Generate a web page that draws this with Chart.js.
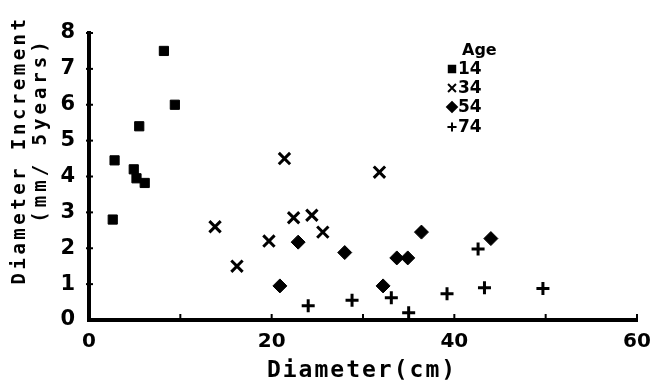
<!DOCTYPE html>
<html>
<head>
<meta charset="utf-8">
<script src="https://cdn.jsdelivr.net/npm/chart.js@4/dist/chart.umd.min.js"></script>
<style>
  body { margin: 0; background: #fff; }
  #wrap { width: 669px; height: 389px; position: relative; }
</style>
</head>
<body>
<div id="wrap"><canvas id="growthChart"></canvas></div>
<script>
// Diameter (cm) vs diameter increment (mm / 5 years), by age
const age14 = [[2.6, 2.8], [2.8, 4.45], [4.9, 4.2], [5.2, 3.95], [5.5, 5.4], [6.1, 3.82], [8.2, 7.5], [9.4, 6.0]];
const age34 = [[13.8, 2.6], [16.2, 1.5], [19.7, 2.2], [21.4, 4.5], [22.4, 2.85], [24.4, 2.92], [25.6, 2.45], [31.8, 4.12]];
const age54 = [[20.9, 0.95], [22.9, 2.17], [28.0, 1.88], [32.2, 0.95], [33.7, 1.73], [34.9, 1.73], [36.4, 2.45], [44.0, 2.27]];
const age74 = [[24.0, 0.4], [28.8, 0.55], [33.1, 0.62], [35.0, 0.2], [39.2, 0.73], [42.6, 1.98], [43.3, 0.9], [49.7, 0.88]];

const seriesNames = ['14', '34', '54', '74'];
const xTicks = [0, 20, 40, 60];
const yTicks = [0, 1, 2, 3, 4, 5, 6, 7, 8];

const xTitle = 'Diameter(cm)';
const yTitle1 = 'Diameter Increment';
const yTitle2 = '(mm/ 5years)';

function toPoints(arr) {
    return arr.map(p => ({ x: p[0], y: p[1] }));
}

const markerStyles = [
    { pointStyle: 'rect', pointRadius: 6.5, pointBorderWidth: 1 },
    { pointStyle: 'crossRot', pointRadius: 8, pointBorderWidth: 3 },
    { pointStyle: 'rectRot', pointRadius: 7, pointBorderWidth: 1 },
    { pointStyle: 'cross', pointRadius: 6.5, pointBorderWidth: 3 }
];

const datasets = [age14, age34, age54, age74].map((arr, i) => ({
    label: seriesNames[i],
    data: toPoints(arr),
    backgroundColor: '#000',
    borderColor: '#000',
    pointStyle: markerStyles[i].pointStyle,
    pointRadius: markerStyles[i].pointRadius,
    pointBorderWidth: markerStyles[i].pointBorderWidth,
    pointHoverRadius: markerStyles[i].pointRadius
}));

// draws axis ticks, axis titles and the "Age" key
const decorPlugin = {
    id: 'decor',
    afterDraw(chart) {
        const ctx = chart.ctx;
        const xs = chart.scales.x;
        const ys = chart.scales.y;
        const area = chart.chartArea;
        ctx.save();
        ctx.strokeStyle = '#000';
        ctx.lineWidth = 2;
        // x ticks every 10, pointing up
        for (let v = 10; v <= 60; v += 10) {
            const px = xs.getPixelForValue(v);
            ctx.beginPath();
            ctx.moveTo(px, area.bottom);
            ctx.lineTo(px, area.bottom - 6);
            ctx.stroke();
        }
        // y ticks crossing the axis
        yTicks.forEach(v => {
            if (v === 0) return;
            const py = ys.getPixelForValue(v);
            ctx.beginPath();
            ctx.moveTo(area.left - 3, py);
            ctx.lineTo(area.left + 4, py);
            ctx.stroke();
        });

        ctx.fillStyle = '#000';
        ctx.textAlign = 'center';
        ctx.textBaseline = 'middle';
        // x title
        ctx.font = 'bold 23px "DejaVu Sans Mono"';
        ctx.letterSpacing = '2px';
        ctx.fillText(xTitle, 362, 371);
        // y title, two rotated lines
        ctx.font = 'bold 19px "DejaVu Sans Mono"';
        ctx.letterSpacing = '3.5px';
        ctx.save();
        ctx.translate(20, 150);
        ctx.rotate(-Math.PI / 2);
        ctx.fillText(yTitle1, 0, 0);
        ctx.restore();
        ctx.save();
        ctx.translate(41, 130);
        ctx.rotate(-Math.PI / 2);
        ctx.letterSpacing = '4px';
        ctx.fillText(yTitle2, 0, 0);
        ctx.restore();

        // key
        ctx.letterSpacing = '0px';
        ctx.textAlign = 'left';
        ctx.font = 'bold 16px "DejaVu Sans"';
        ctx.fillText('Age', 462, 51);
        const rowY = [69, 88, 107, 127];
        ctx.font = 'bold 17px "DejaVu Sans"';
        datasets.forEach((ds, i) => {
            const m = markerStyles[i];
            Chart.helpers.drawPoint(ctx, {
                pointStyle: m.pointStyle,
                radius: m.pointRadius * 0.7,
                borderWidth: m.pointBorderWidth > 1 ? 2.5 : 1,
                rotation: 0
            }, 452, rowY[i]);
            ctx.fillStyle = '#000';
            ctx.fillText(ds.label, 458, rowY[i] + 1);
        });
        ctx.restore();
    }
};

document.addEventListener('DOMContentLoaded', function() {
    const canvas = document.getElementById('growthChart');
    const ctx = canvas.getContext('2d');
    new Chart(ctx, {
        type: 'scatter',
        data: { datasets: datasets },
        options: {
            responsive: true,
            maintainAspectRatio: false,
            animation: false,
            layout: { padding: { top: 33, right: 32, left: 0, bottom: 0 } },
            plugins: {
                legend: { display: false },
                tooltip: { enabled: false }
            },
            scales: {
                x: {
                    type: 'linear',
                    min: 0,
                    max: 60,
                    afterFit(scale) { scale.height = 69; },
                    afterBuildTicks(scale) { scale.ticks = xTicks.map(v => ({ value: v })); },
                    border: { display: true, color: '#000', width: 4 },
                    grid: { display: true, drawOnChartArea: false, drawTicks: false },
                    ticks: {
                        color: '#000',
                        padding: 10,
                        font: { family: 'DejaVu Sans', weight: 'bold', size: 20 }
                    },
                    title: { display: false }
                },
                y: {
                    type: 'linear',
                    min: 0,
                    max: 8,
                    afterFit(scale) { scale.width = 89; },
                    afterBuildTicks(scale) { scale.ticks = yTicks.map(v => ({ value: v })); },
                    border: { display: true, color: '#000', width: 4 },
                    grid: { display: true, drawOnChartArea: false, drawTicks: false },
                    ticks: {
                        color: '#000',
                        padding: 14,
                        font: { family: 'DejaVu Sans', weight: 'bold', size: 21 }
                    },
                    title: { display: false }
                }
            }
        },
        plugins: [decorPlugin]
    });
});
</script>
</body>
</html>
